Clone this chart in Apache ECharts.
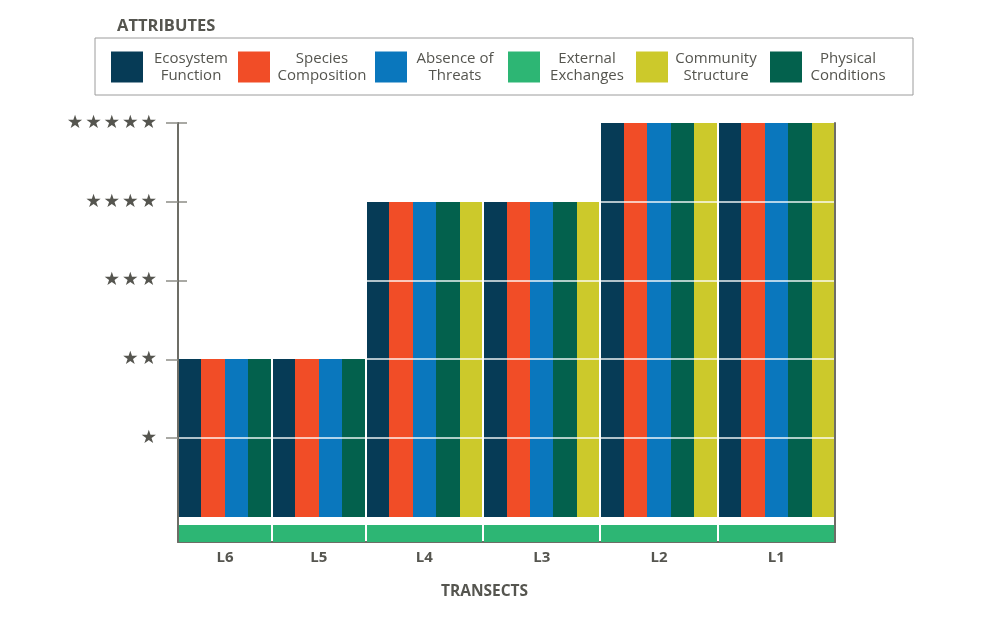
<!DOCTYPE html>
<html><head><meta charset="utf-8">
<script src="https://cdn.jsdelivr.net/npm/echarts@6/dist/echarts.min.js"></script>
<style>html,body{margin:0;padding:0;background:#fff}#c{width:1000px;height:636px}</style>
</head><body><div id="c"></div>
<script>
// ---- data ----
const transects = ['L6', 'L5', 'L4', 'L3', 'L2', 'L1'];
const ecosystemFunction  = [2, 2, 4, 4, 5, 5];
const speciesComposition = [2, 2, 4, 4, 5, 5];
const absenceOfThreats   = [2, 2, 4, 4, 5, 5];
const physicalConditions = [2, 2, 4, 4, 5, 5];
const communityStructure = [null, null, 4, 4, 5, 5];
const externalExchanges  = [1, 1, 1, 1, 1, 1]; // drawn as the band under each transect
const starTicks = [1, 2, 3, 4, 5];
const starLabels = ['', '★', '★\u200A★', '★\u200A★\u200A★', '★\u200A★\u200A★\u200A★', '★\u200A★\u200A★\u200A★\u200A★'];
const legendNames = ['Ecosystem Function', 'Species Composition', 'Absence of Threats', 'External Exchanges', 'Community Structure', 'Physical Conditions'];
const legendLines = [['Ecosystem', 'Function'], ['Species', 'Composition'], ['Absence of', 'Threats'], ['External', 'Exchanges'], ['Community', 'Structure'], ['Physical', 'Conditions']];

// ---- styling ----
const TEXT = '#55554f';
const AXIS = '#6d6d66';
const TICK = '#8d8d87';
const FONT = 'Open Sans';
const colors = {
  'Ecosystem Function': '#063b56',
  'Species Composition': '#f14d27',
  'Absence of Threats': '#0a77bd',
  'External Exchanges': '#2db674',
  'Community Structure': '#ccc92b',
  'Physical Conditions': '#03614d'
};
const barOrder = [
  ['Ecosystem Function', ecosystemFunction],
  ['Species Composition', speciesComposition],
  ['Absence of Threats', absenceOfThreats],
  ['Physical Conditions', physicalConditions],
  ['Community Structure', communityStructure]
];

// slot layout (one slot per bar, groups of bars per transect)
const seriesData = {};
barOrder.forEach(([n]) => seriesData[n] = []);
const groupStart = [], groupEnd = [];
let slot = 0;
transects.forEach((t, i) => {
  const present = barOrder.filter(([n, arr]) => arr[i] != null);
  groupStart.push(slot);
  present.forEach(([n, arr], k) => {
    seriesData[n].push([slot, slot + 1, arr[i], k === 0 ? 1 : 0, k === present.length - 1 ? 1 : 0]);
    slot++;
  });
  groupEnd.push(slot);
});
const totalSlots = slot;
const centers = transects.map((t, i) => (groupStart[i] + groupEnd[i]) / 2);
const bandData = transects.map((t, i) => [groupStart[i], groupEnd[i], externalExchanges[i], 1, 1]);

function renderBar(params, api) {
  const x0 = api.value(0), x1 = api.value(1), v = api.value(2);
  const s = api.value(3), e = api.value(4);
  const p0 = api.coord([x0, v]), p1 = api.coord([x1, 0]);
  const l = Math.round(p0[0]) + (s ? 1 : 0);
  const r = Math.round(p1[0]) - (e ? 1 : 0);
  const top = Math.round(p0[1]), bot = Math.round(p1[1]);
  const children = [{
    type: 'rect', shape: { x: l, y: top, width: r - l, height: bot - top },
    style: { fill: api.visual('color') }
  }];
  for (let k = 1; k < v; k++) {
    const y = Math.round(api.coord([x0, k])[1]);
    children.push({ type: 'line', shape: { x1: l, y1: y, x2: r, y2: y },
      style: { stroke: 'rgba(255,255,255,0.92)', lineWidth: 1.5 } });
  }
  return { type: 'group', children };
}

// legend text layout: centred block width, right spacer
const Wc = [86, 94, 86, 84, 86, 82];
const G = [4, 6, 10, 7, 11, 0];
const rich = {};
legendNames.forEach((n, i) => {
  rich['c' + i] = { width: Wc[i], align: 'center', fontSize: 15, lineHeight: 17, color: TEXT, fontFamily: FONT };
  rich['g' + i] = { width: G[i] || 1, align: 'right', fontSize: 15, lineHeight: 17 };
});

const chart = echarts.init(document.getElementById('c'), null, { renderer: 'canvas' });
const series = barOrder.map(([n]) => ({
  name: n, type: 'custom', xAxisIndex: 0, yAxisIndex: 0,
  itemStyle: { color: colors[n] }, renderItem: renderBar,
  encode: { x: [0, 1], y: 2 }, data: seriesData[n], silent: true
}));
series.push({
  name: 'External Exchanges', type: 'custom', xAxisIndex: 1, yAxisIndex: 3,
  itemStyle: { color: colors['External Exchanges'] }, renderItem: renderBar,
  encode: { x: [0, 1], y: 2 }, data: bandData, silent: true
});

const hiddenY = { axisTick: { show: false }, axisLabel: { show: false }, splitLine: { show: false } };
chart.setOption({
  animation: false,
  backgroundColor: '#ffffff',
  title: [
    { text: 'ATTRIBUTES', left: 117, top: 18, padding: 0,
      textStyle: { fontSize: 16.5, fontWeight: 'bold', color: TEXT, fontFamily: FONT } },
    { text: 'TRANSECTS', left: 441, top: 584, padding: 0,
      textStyle: { fontSize: 15.5, fontWeight: 'bold', color: TEXT, fontFamily: FONT } }
  ],
  legend: {
    data: legendNames, left: 95, top: 38, orient: 'horizontal',
    padding: [13, 24, 12, 16], itemGap: 0, itemWidth: 32, itemHeight: 31,
    icon: 'rect', selectedMode: false,
    borderColor: '#9c9c9c', borderWidth: 1,
    formatter: function (name) {
      const i = legendNames.indexOf(name);
      const [a, b] = legendLines[i];
      const g = G[i] ? '{g' + i + '| }' : '';
      return '{c' + i + '|' + a + '}' + g + '\n{c' + i + '|' + b + '}' + g;
    },
    textStyle: { rich: rich, color: TEXT, fontFamily: FONT, fontSize: 15 }
  },
  grid: [
    { left: 178, right: 165, top: 123, height: 394 },
    { left: 178, right: 165, top: 517, height: 25 }
  ],
  xAxis: [
    { gridIndex: 0, type: 'value', min: 0, max: totalSlots, show: false },
    { gridIndex: 1, type: 'value', min: 0, max: totalSlots,
      axisLine: { show: true, onZero: false, lineStyle: { color: AXIS, width: 2 } },
      axisTick: { show: false }, splitLine: { show: false },
      axisLabel: { customValues: centers, margin: 8,
        formatter: v => transects[centers.indexOf(v)] || '',
        color: TEXT, fontWeight: 'bold', fontSize: 15, fontFamily: FONT } }
  ],
  yAxis: [
    { gridIndex: 0, type: 'value', min: 0, max: 5, interval: 1, position: 'left', z: 4,
      axisLine: { show: true, onZero: false, lineStyle: { color: AXIS, width: 2 } },
      axisTick: { show: true, customValues: starTicks, length: 12, lineStyle: { color: TICK, width: 1.5 } },
      axisLabel: { customValues: starTicks, formatter: v => starLabels[v], margin: 21,
        padding: [5, 0, 0, 0],
        fontSize: 18.5, fontFamily: 'DejaVu Sans', color: TEXT },
      splitLine: { show: false } },
    { gridIndex: 0, type: 'value', min: 0, max: 5, interval: 1, position: 'left', z: 0,
      axisLine: { show: false, onZero: false },
      axisTick: { show: true, inside: true, customValues: starTicks, length: 9, lineStyle: { color: TICK, width: 1.5 } },
      axisLabel: { show: false }, splitLine: { show: false } },
    Object.assign({ gridIndex: 0, type: 'value', min: 0, max: 5, interval: 1, position: 'right', z: 4,
      axisLine: { show: true, onZero: false, lineStyle: { color: AXIS, width: 2 } } }, hiddenY),
    Object.assign({ gridIndex: 1, type: 'value', min: 0, max: 1.5, position: 'left', z: 4,
      axisLine: { show: true, onZero: false, lineStyle: { color: AXIS, width: 2 } } }, hiddenY),
    Object.assign({ gridIndex: 1, type: 'value', min: 0, max: 1.5, position: 'right', z: 4,
      axisLine: { show: true, onZero: false, lineStyle: { color: AXIS, width: 2 } } }, hiddenY)
  ],
  series: series
});
</script>
</body></html>
